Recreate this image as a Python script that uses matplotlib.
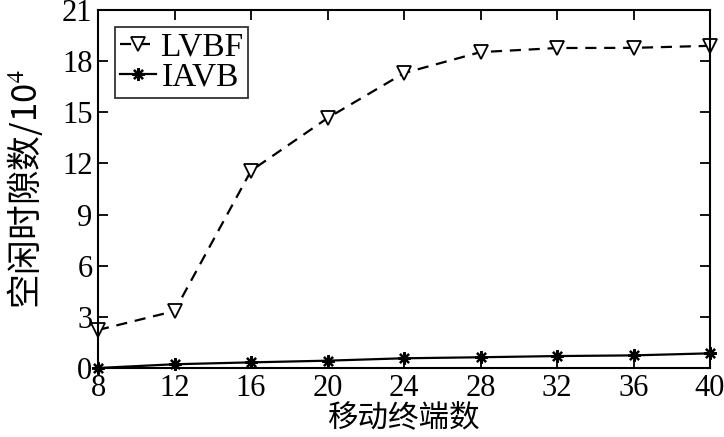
import matplotlib.pyplot as plt

terminals = [8, 12, 16, 20, 24, 28, 32, 36, 40]
lvbf = [2.23, 3.34, 11.57, 14.66, 17.3, 18.53, 18.77, 18.78, 18.9]
iavb = [0.0, 0.22, 0.33, 0.43, 0.57, 0.63, 0.70, 0.74, 0.86]
xticks = [8, 12, 16, 20, 24, 28, 32, 36, 40]
yticks = [0, 3, 6, 9, 12, 15, 18, 21]

plt.rcParams['font.family'] = ['Liberation Serif', 'Noto Sans CJK SC']
plt.rcParams['mathtext.fontset'] = 'stix'

fig = plt.figure(figsize=(7.24, 4.37), dpi=100)
ax = fig.add_axes([0.1354, 0.1579, 0.8453, 0.8192])

# MATLAB-like asterisk marker
ast = (8, 2, 0)

ax.plot(terminals, lvbf, color='black', linestyle=(0, (5, 3.5)), linewidth=1.6,
        marker='v', markersize=10, markerfacecolor='white',
        markeredgecolor='black', markeredgewidth=1.3, label='LVBF', clip_on=False)
ax.plot(terminals, iavb, color='black', linestyle='-', linewidth=1.6,
        marker=ast, markersize=9, markeredgewidth=1.6,
        label='IAVB', clip_on=False)

ax.set_xlim(8, 40)
ax.set_ylim(0, 21)
ax.set_xticks(xticks)
ax.set_yticks(yticks)
ax.tick_params(direction='in', top=True, right=True, length=7, width=1.3,
               labelsize=22, pad=4)
for s in ax.spines.values():
    s.set_linewidth(1.5)

ax.set_xlabel('移动终端数', fontsize=22, family=['Noto Sans CJK SC'], labelpad=0)
ax.set_ylabel('空闲时隙数/10$^4$', fontsize=25,
              family=['Noto Sans CJK SC', 'Liberation Serif'], labelpad=12)

leg = ax.legend(loc='upper left', fontsize=24, frameon=True, fancybox=False,
                edgecolor='black', handlelength=1.1, handletextpad=0.15,
                borderpad=0.15, labelspacing=0.0, borderaxespad=0.5)
leg.get_frame().set_linewidth(1.3)

fig.savefig('out.png', dpi=100)
